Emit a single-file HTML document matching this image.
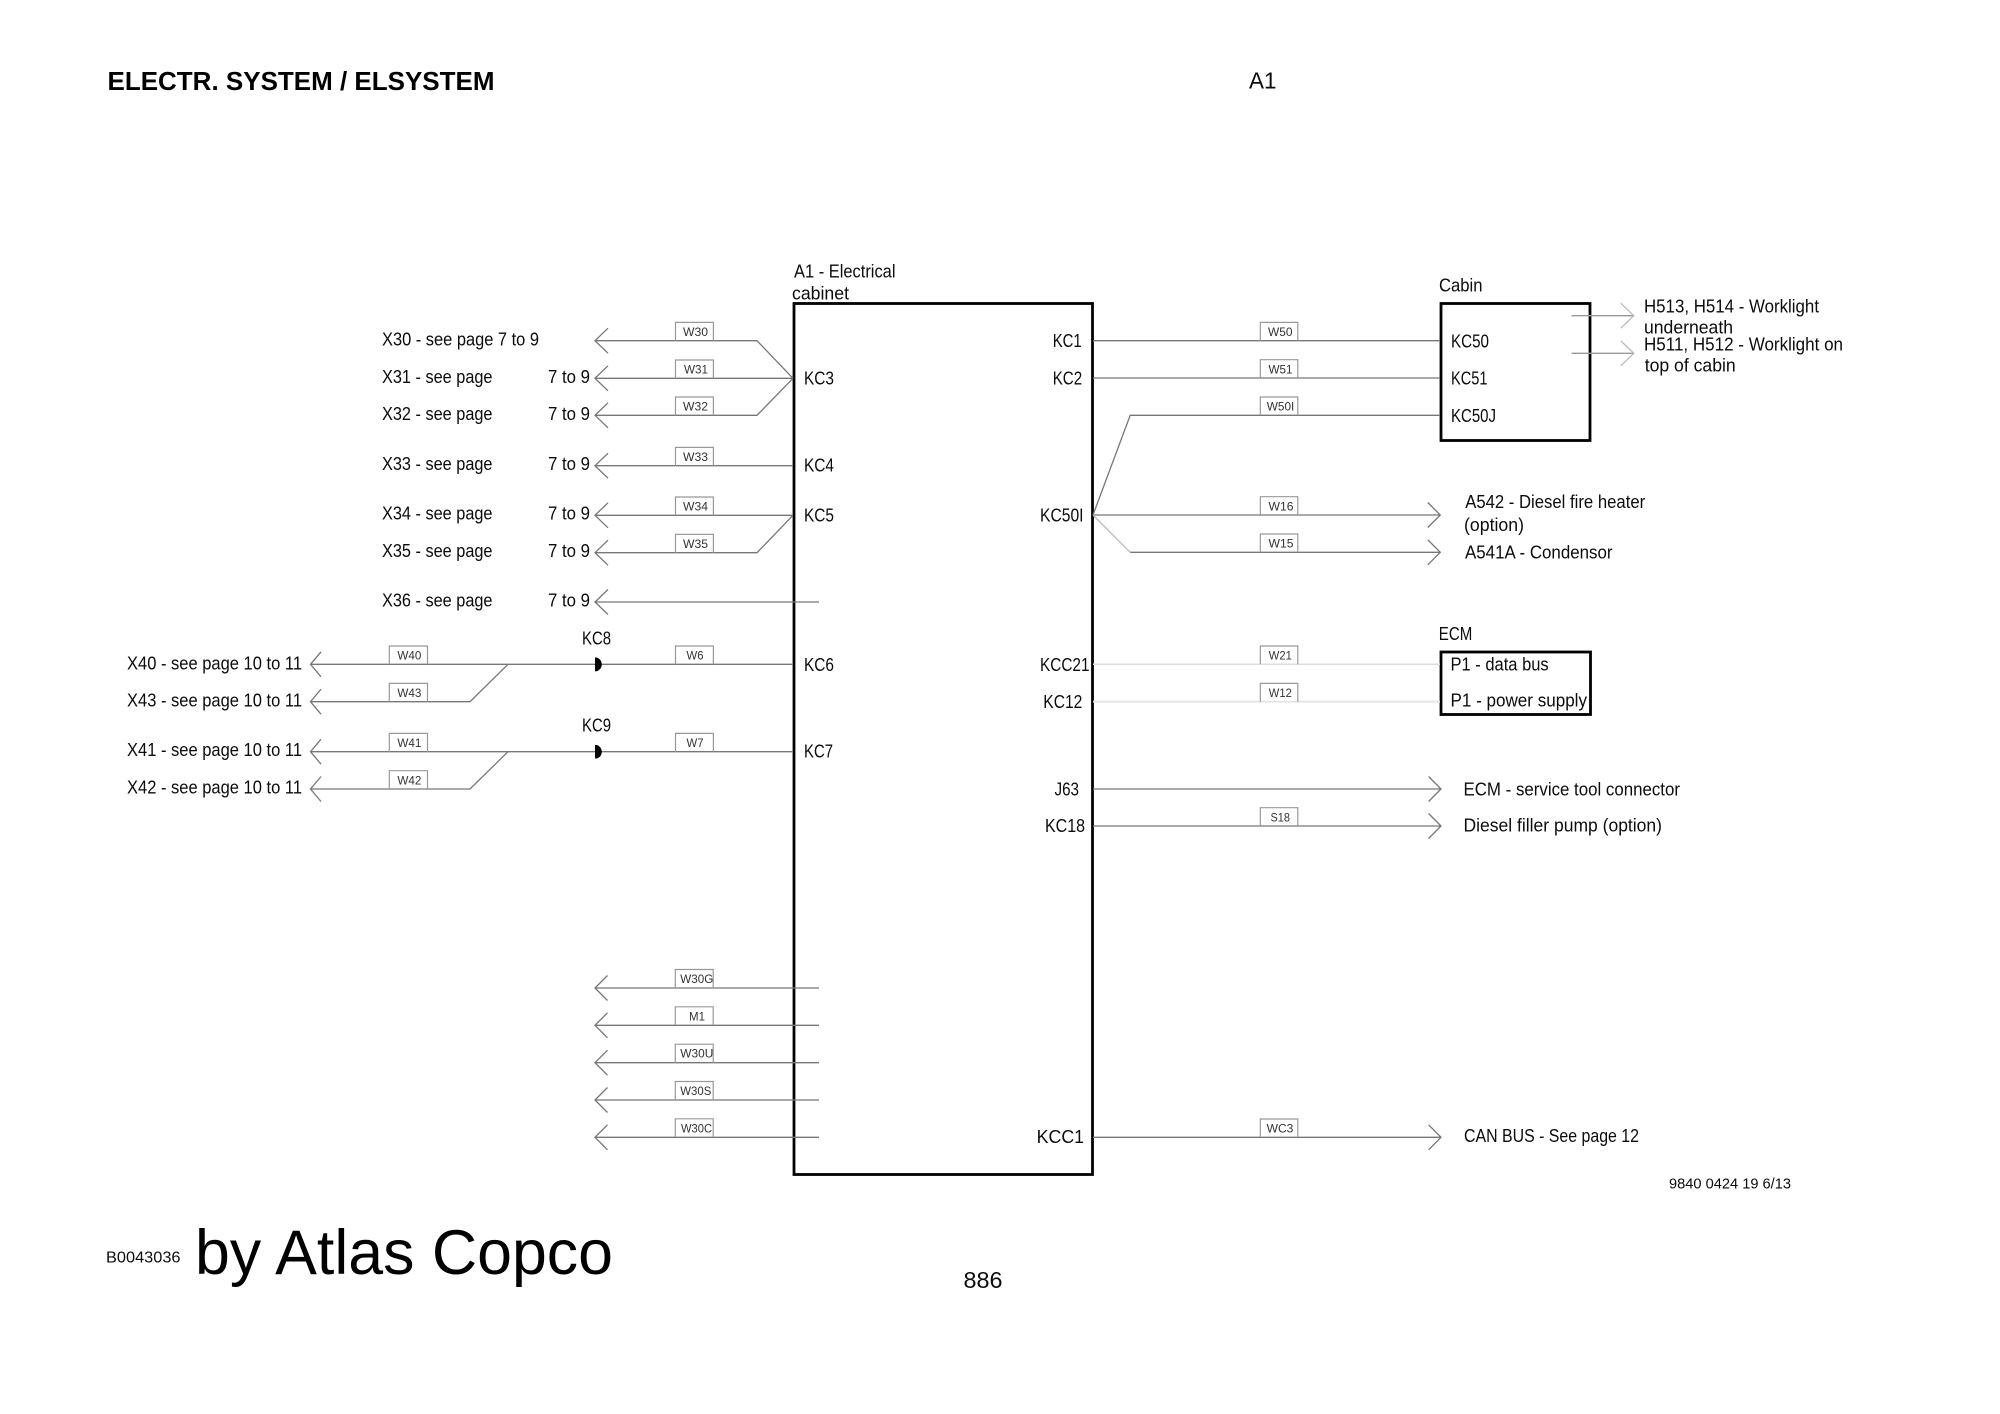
<!DOCTYPE html>
<html>
<head>
<meta charset="utf-8">
<title>A1 Electrical System</title>
<style>
html,body{margin:0;padding:0;background:#fff;}
svg{display:block;}
text{font-family:"Liberation Sans",sans-serif;fill:#0c0c0c;}
.t{font-size:18px;}
.w{font-size:12px;fill:#333;}
.l{fill:none;stroke:#777;stroke-width:1.3;}
.b{fill:none;stroke:#999;stroke-width:1.2;}
.k{fill:none;stroke:#000;stroke-width:2.8;}
</style>
</head>
<body>
<svg width="2000" height="1414" viewBox="0 0 2000 1414" xmlns="http://www.w3.org/2000/svg">
<rect width="2000" height="1414" fill="#fff"/>

<!-- header/footer -->
<text x="107.500" y="90" font-size="25.500" font-weight="bold" style="fill:#000" textLength="387" lengthAdjust="spacingAndGlyphs">ELECTR. SYSTEM / ELSYSTEM</text>
<text x="1249" y="88.500" font-size="23" textLength="27.500" lengthAdjust="spacingAndGlyphs">A1</text>
<text x="1669" y="1188.300" font-size="14.500" textLength="122" lengthAdjust="spacingAndGlyphs">9840 0424 19 6/13</text>
<text x="963.500" y="1288" font-size="23.500" textLength="39" lengthAdjust="spacingAndGlyphs">886</text>
<text x="106" y="1262.700" font-size="15.500" textLength="74.500" lengthAdjust="spacingAndGlyphs">B0043036</text>
<text x="195" y="1274" font-size="63" style="fill:#000" textLength="418" lengthAdjust="spacingAndGlyphs">by Atlas Copco</text>

<!-- main boxes -->
<rect class="k" x="794" y="303.500" width="298.500" height="871"/>
<rect class="k" x="1441" y="303.500" width="149" height="137"/>
<rect class="k" x="1441" y="652" width="149.500" height="62.500"/>

<!-- left connector lines -->
<path class="l" d="M595 340.700H757L793 378.300M595 378.300H793M595 415.300H757L793 378.300"/>
<path class="l" d="M608 328.200L595 340.700L608 353.200M608 365.800L595 378.300L608 390.800M608 402.800L595 415.300L608 427.800"/>
<path class="l" d="M595 465.700H793M608 453.200L595 465.700L608 478.200"/>
<path class="l" d="M595 515.300H793M595 552.700H757L793 515.300M608 502.800L595 515.300L608 527.800M608 540.200L595 552.700L608 565.200"/>
<path class="l" d="M595 602H819M608 589.500L595 602L608 614.500"/>

<path class="l" d="M310.500 664.300H793M310.500 701.700H470L508 664.300M321 651.800L310.500 664.300L321 676.800M321 689.200L310.500 701.700L321 714.200"/>
<path class="l" d="M310.500 751.700H793M310.500 789H470L508 751.700M321 739.200L310.500 751.700L321 764.200M321 776.500L310.500 789L321 801.500"/>
<path fill="#000" d="M595 657.500H597Q601.800 659.500 601.800 664.300Q601.800 669 597 671.200H595Z"/>
<path fill="#000" d="M595 745H597Q601.800 747 601.800 751.700Q601.800 756.500 597 758.500H595Z"/>

<path class="l" d="M595 988H819M607.500 975.500L595 988L607.500 1000.500"/>
<path class="l" d="M595 1025.300H819M607.500 1012.800L595 1025.300L607.500 1037.800"/>
<path class="l" d="M595 1062.700H819M607.500 1050.200L595 1062.700L607.500 1075.200"/>
<path class="l" d="M595 1100H819M607.500 1087.500L595 1100L607.500 1112.500"/>
<path class="l" d="M595 1137.300H819M607.500 1124.800L595 1137.300L607.500 1149.800"/>

<!-- right connector lines -->
<path class="l" d="M1093 340.700H1440M1093 378H1440M1093 515L1130.200 415.300H1440"/>
<path class="l" d="M1093 515H1440M1427.800 502.500L1440.300 515L1427.800 527.500"/>
<path class="l" d="M1130.200 552.300H1440M1427.800 539.800L1440.300 552.300L1427.800 564.800"/>
<path fill="none" stroke="#bbb" stroke-width="1.300" d="M1093 515L1130.200 552.300"/>
<path fill="none" stroke="#ddd" stroke-width="1.500" d="M1093 664.300H1440"/>
<path fill="none" stroke="#e4e4e4" stroke-width="1.800" d="M1093 701.700H1440"/>
<path class="l" d="M1093 789H1440M1428.600 776.500L1441 789L1428.600 801.500"/>
<path class="l" d="M1093 826H1440M1428.600 813.500L1441 826L1428.600 838.500"/>
<path class="l" d="M1093 1137.300H1440M1428.600 1124.800L1441 1137.300L1428.600 1149.800"/>
<path fill="none" stroke="#999" stroke-width="1.300" d="M1571.500 315.700H1633"/>
<path fill="none" stroke="#999" stroke-width="1.300" d="M1571.500 353.300H1633"/>
<path fill="none" stroke="#bbb" stroke-width="1.300" d="M1620.800 303.200L1633.800 315.700L1620.800 328.200M1620.800 340.800L1633.800 353.300L1620.800 365.800"/>

<!-- wire label tabs -->
<path class="b" d="M675.500 340.700V322.400H713.400V340.700M675.500 378.300V360H713.400V378.300M675.500 415.300V397H713.400V415.300M675.500 465.700V447.400H713.400V465.700M675.500 515.300V497H713.400V515.300M675.500 552.700V534.400H713.400V552.700M675.500 664.300V646H713.400V664.300M675.500 751.700V733.400H713.400V751.700"/>
<path class="b" d="M389.300 664.300V646H427.500V664.300M389.300 701.700V683.400H427.500V701.700M389.300 751.700V733.400H427.500V751.700M389.300 789V770.700H427.500V789"/>
<path class="b" d="M675.300 988V969.500H713.200V988M675.300 1025.300V1006.800H713.200V1025.300M675.300 1062.700V1044.200H713.200V1062.700M675.300 1100V1081.500H713.200V1100M675.300 1137.300V1118.800H713.200V1137.300"/>
<path class="b" d="M1260.300 340.700V322.400H1297.800V340.700M1260.300 378V359.700H1297.800V378M1260.300 415.300V397H1297.800V415.300M1260.300 515V496.700H1297.800V515M1260.300 552.300V534H1297.800V552.300M1260.300 664.300V646H1297.800V664.300M1260.300 701.700V683.400H1297.800V701.700M1260.300 826V807.700H1297.800V826M1260.300 1137.300V1119H1297.800V1137.300"/>

<g class="w">
<text class="w" x="683" y="336" textLength="25" lengthAdjust="spacingAndGlyphs">W30</text>
<text class="w" x="684" y="373.600" textLength="24" lengthAdjust="spacingAndGlyphs">W31</text>
<text class="w" x="683" y="410.600" textLength="25" lengthAdjust="spacingAndGlyphs">W32</text>
<text class="w" x="683" y="461" textLength="25" lengthAdjust="spacingAndGlyphs">W33</text>
<text class="w" x="683" y="510.600" textLength="25" lengthAdjust="spacingAndGlyphs">W34</text>
<text class="w" x="683" y="548" textLength="25" lengthAdjust="spacingAndGlyphs">W35</text>
<text class="w" x="686.500" y="659.600" textLength="17" lengthAdjust="spacingAndGlyphs">W6</text>
<text class="w" x="686.500" y="747" textLength="17" lengthAdjust="spacingAndGlyphs">W7</text>
<text class="w" x="397.400" y="659.600" textLength="24" lengthAdjust="spacingAndGlyphs">W40</text>
<text class="w" x="397.400" y="697" textLength="24" lengthAdjust="spacingAndGlyphs">W43</text>
<text class="w" x="397.400" y="747" textLength="24" lengthAdjust="spacingAndGlyphs">W41</text>
<text class="w" x="397.400" y="784.300" textLength="24" lengthAdjust="spacingAndGlyphs">W42</text>
<text class="w" x="680.300" y="983" textLength="33" lengthAdjust="spacingAndGlyphs">W30G</text>
<text class="w" x="689" y="1020.300" textLength="16" lengthAdjust="spacingAndGlyphs">M1</text>
<text class="w" x="680.300" y="1057.700" textLength="33" lengthAdjust="spacingAndGlyphs">W30U</text>
<text class="w" x="680.300" y="1095" textLength="31" lengthAdjust="spacingAndGlyphs">W30S</text>
<text class="w" x="681" y="1132.300" textLength="31" lengthAdjust="spacingAndGlyphs">W30C</text>
<text class="w" x="1268" y="336" textLength="24.500" lengthAdjust="spacingAndGlyphs">W50</text>
<text class="w" x="1268.500" y="373.300" textLength="24" lengthAdjust="spacingAndGlyphs">W51</text>
<text class="w" x="1266.800" y="410.600" textLength="27.500" lengthAdjust="spacingAndGlyphs">W50I</text>
<text class="w" x="1268.500" y="510.300" textLength="25" lengthAdjust="spacingAndGlyphs">W16</text>
<text class="w" x="1268.500" y="547.600" textLength="25" lengthAdjust="spacingAndGlyphs">W15</text>
<text class="w" x="1268.800" y="659.600" textLength="23" lengthAdjust="spacingAndGlyphs">W21</text>
<text class="w" x="1268.800" y="697" textLength="23" lengthAdjust="spacingAndGlyphs">W12</text>
<text class="w" x="1270.500" y="821.300" textLength="19.500" lengthAdjust="spacingAndGlyphs">S18</text>
<text class="w" x="1266.600" y="1132.600" textLength="26.800" lengthAdjust="spacingAndGlyphs">WC3</text>
</g>

<!-- left labels -->
<text class="t" x="382" y="345.700" textLength="157" lengthAdjust="spacingAndGlyphs">X30 - see page 7 to 9</text>
<text class="t" x="382" y="383" textLength="110.500" lengthAdjust="spacingAndGlyphs">X31 - see page</text>
<text class="t" x="382" y="420.200" textLength="110.500" lengthAdjust="spacingAndGlyphs">X32 - see page</text>
<text class="t" x="382" y="470" textLength="110.500" lengthAdjust="spacingAndGlyphs">X33 - see page</text>
<text class="t" x="382" y="519.500" textLength="110.500" lengthAdjust="spacingAndGlyphs">X34 - see page</text>
<text class="t" x="382" y="557" textLength="110.500" lengthAdjust="spacingAndGlyphs">X35 - see page</text>
<text class="t" x="382" y="606.700" textLength="110.500" lengthAdjust="spacingAndGlyphs">X36 - see page</text>
<text class="t" x="548" y="383" textLength="42" lengthAdjust="spacingAndGlyphs">7 to 9</text>
<text class="t" x="548" y="420.200" textLength="42" lengthAdjust="spacingAndGlyphs">7 to 9</text>
<text class="t" x="548" y="470" textLength="42" lengthAdjust="spacingAndGlyphs">7 to 9</text>
<text class="t" x="548" y="519.500" textLength="42" lengthAdjust="spacingAndGlyphs">7 to 9</text>
<text class="t" x="548" y="557" textLength="42" lengthAdjust="spacingAndGlyphs">7 to 9</text>
<text class="t" x="548" y="606.700" textLength="42" lengthAdjust="spacingAndGlyphs">7 to 9</text>
<text class="t" x="127" y="669.300" textLength="175" lengthAdjust="spacingAndGlyphs">X40 - see page 10 to 11</text>
<text class="t" x="127" y="706.700" textLength="175" lengthAdjust="spacingAndGlyphs">X43 - see page 10 to 11</text>
<text class="t" x="127" y="756" textLength="175" lengthAdjust="spacingAndGlyphs">X41 - see page 10 to 11</text>
<text class="t" x="127" y="793.300" textLength="175" lengthAdjust="spacingAndGlyphs">X42 - see page 10 to 11</text>
<text class="t" x="582" y="644.500" textLength="29" lengthAdjust="spacingAndGlyphs">KC8</text>
<text class="t" x="582" y="731.700" textLength="29" lengthAdjust="spacingAndGlyphs">KC9</text>
<text class="t" x="794" y="277.500" textLength="101.500" lengthAdjust="spacingAndGlyphs">A1 - Electrical</text>
<text class="t" x="792" y="299.300" textLength="57" lengthAdjust="spacingAndGlyphs">cabinet</text>

<!-- labels inside main box -->
<text class="t" x="804" y="384.300" textLength="30" lengthAdjust="spacingAndGlyphs">KC3</text>
<text class="t" x="804" y="471.700" textLength="30" lengthAdjust="spacingAndGlyphs">KC4</text>
<text class="t" x="804" y="521.500" textLength="30" lengthAdjust="spacingAndGlyphs">KC5</text>
<text class="t" x="804" y="671" textLength="30" lengthAdjust="spacingAndGlyphs">KC6</text>
<text class="t" x="804" y="757.700" textLength="29" lengthAdjust="spacingAndGlyphs">KC7</text>
<text class="t" x="1052.700" y="347" textLength="29" lengthAdjust="spacingAndGlyphs">KC1</text>
<text class="t" x="1052.700" y="384.500" textLength="29.500" lengthAdjust="spacingAndGlyphs">KC2</text>
<text class="t" x="1040" y="521.500" textLength="43.500" lengthAdjust="spacingAndGlyphs">KC50I</text>
<text class="t" x="1040" y="671" textLength="49.500" lengthAdjust="spacingAndGlyphs">KCC21</text>
<text class="t" x="1043.300" y="708" textLength="39" lengthAdjust="spacingAndGlyphs">KC12</text>
<text class="t" x="1054.500" y="795.700" textLength="24.500" lengthAdjust="spacingAndGlyphs">J63</text>
<text class="t" x="1045" y="832" textLength="40" lengthAdjust="spacingAndGlyphs">KC18</text>
<text class="t" x="1036.600" y="1143" font-size="18.500" style="font-size:18.500px" textLength="47.500" lengthAdjust="spacingAndGlyphs">KCC1</text>

<!-- right labels -->
<text class="t" x="1439" y="291.700" textLength="43.500" lengthAdjust="spacingAndGlyphs">Cabin</text>
<text class="t" x="1451" y="347.300" textLength="38" lengthAdjust="spacingAndGlyphs">KC50</text>
<text class="t" x="1451" y="384.500" textLength="36.500" lengthAdjust="spacingAndGlyphs">KC51</text>
<text class="t" x="1451" y="422" textLength="45" lengthAdjust="spacingAndGlyphs">KC50J</text>
<text class="t" x="1644" y="312.300" textLength="175" lengthAdjust="spacingAndGlyphs">H513, H514 - Worklight</text>
<text class="t" x="1644" y="333.300" textLength="89" lengthAdjust="spacingAndGlyphs">underneath</text>
<text class="t" x="1644" y="350.700" textLength="199" lengthAdjust="spacingAndGlyphs">H511, H512 - Worklight on</text>
<text class="t" x="1644.700" y="371.700" textLength="91" lengthAdjust="spacingAndGlyphs">top of cabin</text>
<text class="t" x="1465.200" y="507.800" textLength="180" lengthAdjust="spacingAndGlyphs">A542 - Diesel fire heater</text>
<text class="t" x="1464" y="531" textLength="60" lengthAdjust="spacingAndGlyphs">(option)</text>
<text class="t" x="1465" y="558.700" textLength="147.500" lengthAdjust="spacingAndGlyphs">A541A - Condensor</text>
<text class="t" x="1438.800" y="640" textLength="33.500" lengthAdjust="spacingAndGlyphs">ECM</text>
<text class="t" x="1450.500" y="670.700" textLength="98.200" lengthAdjust="spacingAndGlyphs">P1 - data bus</text>
<text class="t" x="1450.500" y="706.300" textLength="136.500" lengthAdjust="spacingAndGlyphs">P1 - power supply</text>
<text class="t" x="1463.500" y="795.700" textLength="216.500" lengthAdjust="spacingAndGlyphs">ECM - service tool connector</text>
<text class="t" x="1463.500" y="831.700" textLength="198.500" lengthAdjust="spacingAndGlyphs">Diesel filler pump (option)</text>
<text class="t" x="1464" y="1142" textLength="175" lengthAdjust="spacingAndGlyphs">CAN BUS - See page 12</text>
</svg>
</body>
</html>
